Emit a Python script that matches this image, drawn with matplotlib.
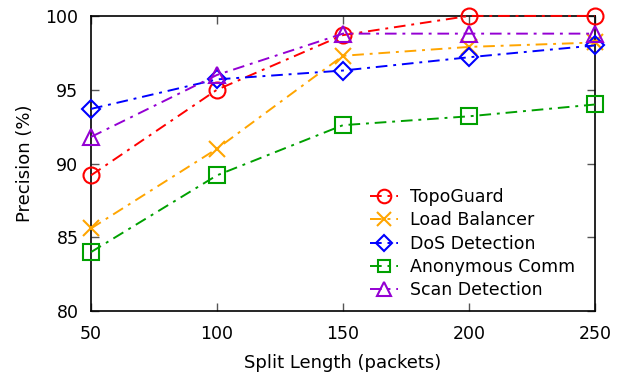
import matplotlib.pyplot as plt

split_len = [50, 100, 150, 200, 250]
topoguard = [89.2, 95.0, 98.7, 100.0, 100.0]
load_bal = [85.6, 91.0, 97.3, 97.9, 98.2]
dos_det = [93.7, 95.7, 96.3, 97.2, 98.0]
anon_comm = [84.0, 89.2, 92.6, 93.2, 94.0]
scan_det = [91.8, 96.0, 98.8, 98.8, 98.8]

labels = ['TopoGuard', 'Load Balancer', 'DoS Detection', 'Anonymous Comm', 'Scan Detection']
colors = ['#ff0000', '#ffa500', '#0000ff', '#00a000', '#9400d3']
markers = ['o', 'x', 'D', 's', '^']
msizes = [11.5, 12, 9, 11, 11.5]

fig = plt.figure(figsize=(6.23, 3.79), dpi=100)
ax = fig.add_axes([0.146, 0.179, 0.809, 0.779])

series = [topoguard, load_bal, dos_det, anon_comm, scan_det]
for y, lab, c, m, ms in zip(series, labels, colors, markers, msizes):
    ax.plot(split_len, y, color=c, linestyle=(0, (6, 3, 1.5, 3)), linewidth=1.4,
            marker=m, markersize=ms, markerfacecolor='none', markeredgecolor=c,
            markeredgewidth=1.5, label=lab, clip_on=False, zorder=3)

ax.set_xlim(50, 250)
ax.set_ylim(80, 100)
ax.set_xticks(split_len)
ax.set_yticks([80, 85, 90, 95, 100])
ax.tick_params(direction='in', length=6, width=1, color='#555555', labelsize=12.5,
               top=True, right=True)
ax.tick_params(axis='x', pad=10)
ax.tick_params(axis='y', pad=9)
for s in ax.spines.values():
    s.set_linewidth(1.2)
    s.set_color('black')

ax.set_xlabel('Split Length (packets)', fontsize=13, labelpad=8)
ax.set_ylabel('Precision (%)', fontsize=13, labelpad=8)

leg = ax.legend(loc='lower right', bbox_to_anchor=(0.985, 0.0), frameon=False, fontsize=12.5,
                handlelength=1.6, handletextpad=0.7, labelspacing=0.3, borderaxespad=0.3,
                markerscale=0.85)

fig.savefig('out.png', dpi=100)
